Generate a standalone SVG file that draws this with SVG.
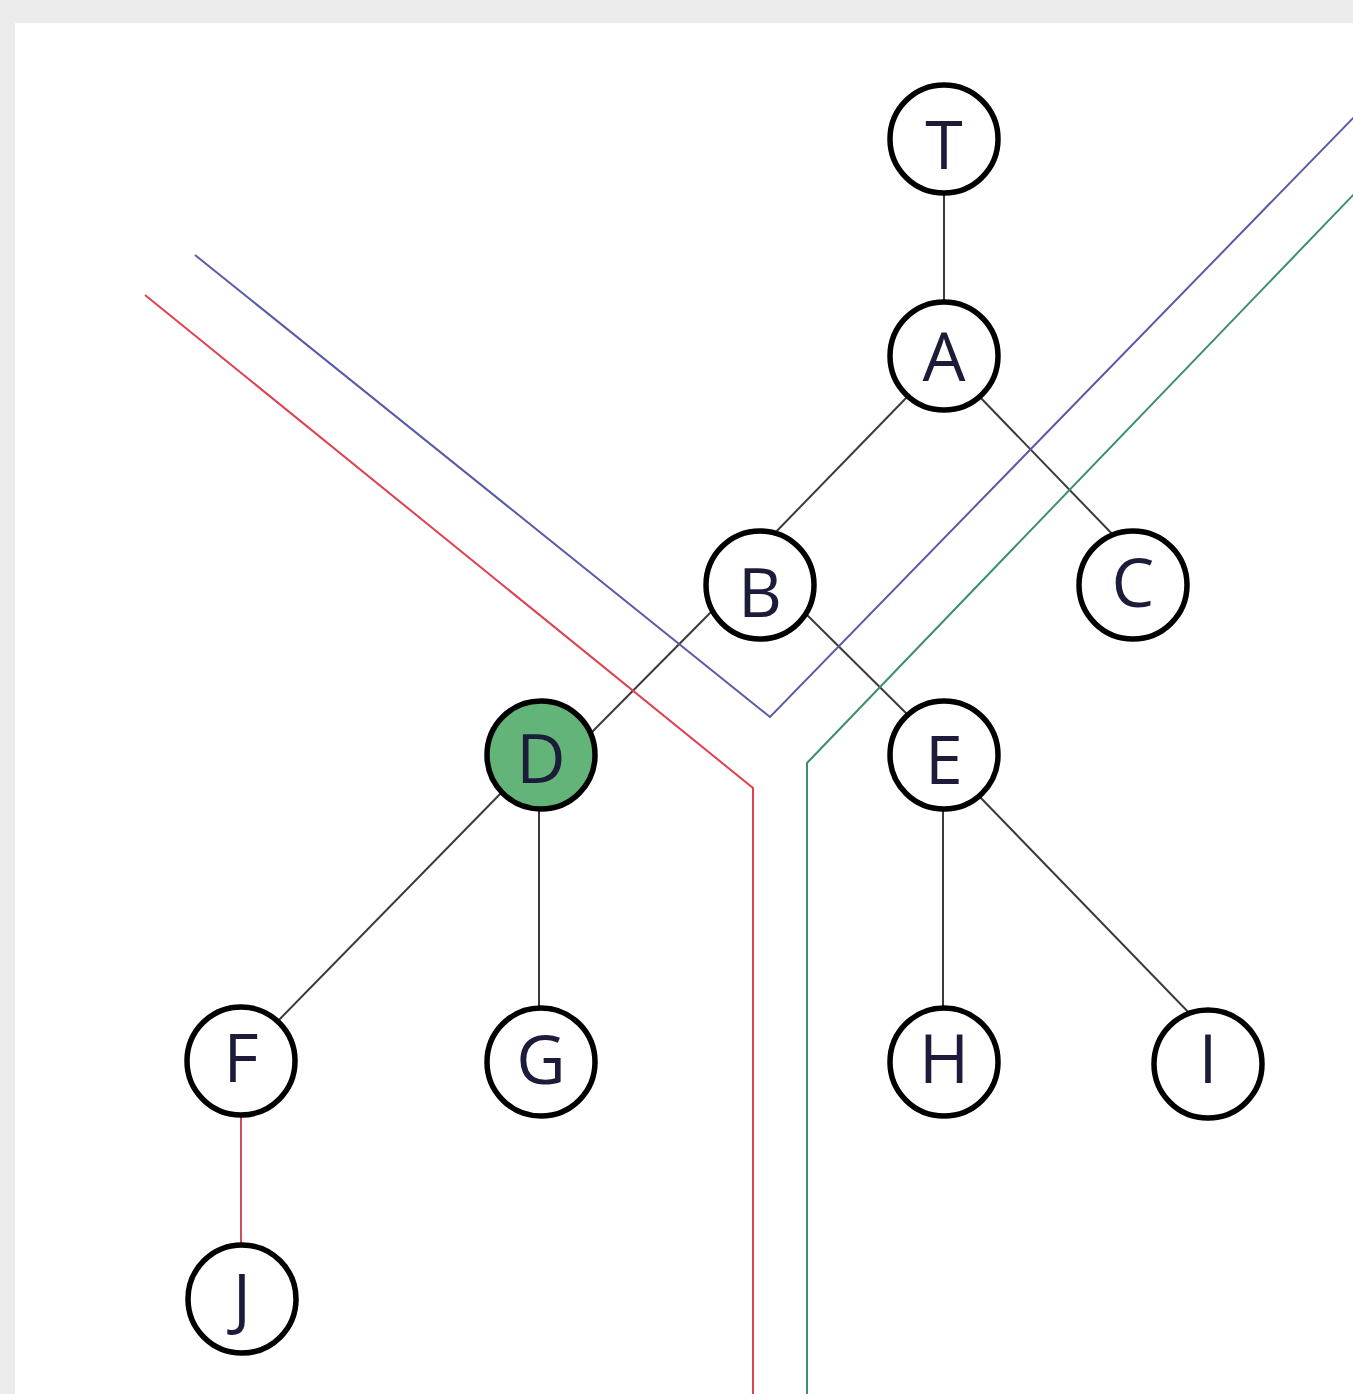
<svg xmlns="http://www.w3.org/2000/svg" width="1353" height="1394" viewBox="0 0 1353 1394">
  <style>
    .edge { stroke: #3a3a3a; stroke-width: 2; fill: none; }
    .edge-red { stroke: #d44a5a; stroke-width: 2; fill: none; }
    .cut { fill: none; stroke-width: 2; }
    .node circle { fill: #ffffff; stroke: #000000; stroke-width: 5.5; }
    .node.active circle { fill: #63b478; }
    .node text { font-family: "Open Sans", "Liberation Sans", sans-serif; font-size: 68px; fill: #1c1c3a; text-anchor: middle; }
  </style>

  <!-- page -->
  <rect x="0" y="0" width="1353" height="1394" fill="#ececec"/>
  <rect x="15" y="23" width="1338" height="1371" fill="#ffffff"/>

  <!-- tree edges; ends tuck under the node circles -->
  <g id="connectors">
    <line class="edge" x1="944" y1="180" x2="944" y2="312"/>
    <line class="edge" x1="909" y1="395" x2="771" y2="537"/>
    <line class="edge" x1="977" y1="394" x2="1117" y2="539"/>
    <line class="edge" x1="715" y1="608" x2="590" y2="734"/>
    <line class="edge" x1="803" y1="611" x2="912" y2="719"/>
    <line class="edge" x1="504" y1="790" x2="275" y2="1024"/>
    <line class="edge" x1="539" y1="800" x2="539" y2="1016"/>
    <line class="edge" x1="943" y1="800" x2="943" y2="1016"/>
    <line class="edge" x1="978" y1="795" x2="1194" y2="1018"/>
    <line class="edge-red" x1="241" y1="1105" x2="241" y2="1255"/>
  </g>

  <!-- partition lines -->
  <g id="cuts">
    <polyline class="cut" stroke="#5a5aa8" points="195,255 770,717 1356,115"/>
    <polyline class="cut" stroke="#e0404f" points="145,295 753,788 753,1394"/>
    <polyline class="cut" stroke="#3e8f6c" points="1356,192 807,763 807,1394"/>
  </g>

  <g id="node-T" class="node"><circle cx="944" cy="139" r="54"/><text x="944" y="169">T</text></g>
  <g id="node-A" class="node"><circle cx="944" cy="356" r="54"/><text x="944" y="381">A</text></g>
  <g id="node-B" class="node"><circle cx="760" cy="585" r="54"/><text x="760" y="617">B</text></g>
  <g id="node-C" class="node"><circle cx="1133" cy="585" r="54"/><text x="1133" y="607">C</text></g>
  <g id="node-D" class="node active"><circle cx="541" cy="755" r="54"/><text x="541" y="783">D</text></g>
  <g id="node-E" class="node"><circle cx="944" cy="755" r="54"/><text x="944" y="784">E</text></g>
  <g id="node-F" class="node"><circle cx="241" cy="1061" r="54"/><text x="241" y="1082">F</text></g>
  <g id="node-G" class="node"><circle cx="541" cy="1062" r="54"/><text x="541" y="1084">G</text></g>
  <g id="node-H" class="node"><circle cx="944" cy="1062" r="54"/><text x="944" y="1083">H</text></g>
  <g id="node-I" class="node"><circle cx="1208" cy="1064" r="54"/><text x="1208" y="1083">I</text></g>
  <g id="node-J" class="node"><circle cx="242" cy="1299" r="54"/><text x="242" y="1322">J</text></g>
</svg>
